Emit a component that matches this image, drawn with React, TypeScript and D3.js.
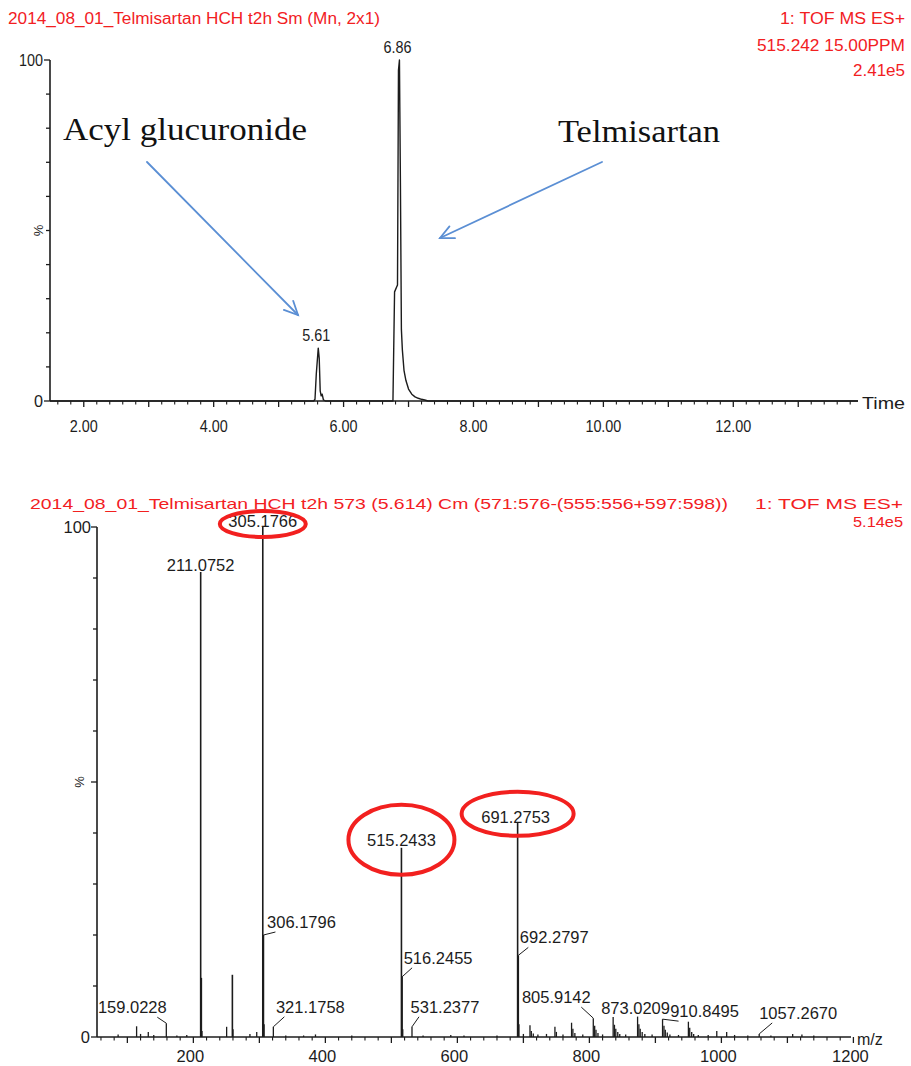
import React from "react";
import * as d3 from "d3";

const W = 911;
const H = 1066;

// ---- Extracted-ion chromatogram, m/z 515.242 (percent of 2.41e5) ----
const chromTime = [1.48, 5.54, 5.56, 5.58, 5.61, 5.625, 5.64, 5.655, 5.67, 5.69, 5.72, 6.76, 6.785, 6.83, 6.845, 6.86, 6.875, 6.89, 6.905, 6.93, 6.96, 7.0, 7.05, 7.1, 7.15, 7.2, 7.25, 7.3, 13.92];
const chromPct = [0, 0, 0.5, 8, 15.5, 12.5, 3, 1.5, 2, 0.3, 0, 0, 32, 34, 97, 100, 64, 21, 15, 9, 6, 3.5, 2, 1.2, 0.8, 0.5, 0.3, 0, 0];
const chromPeakTimes = [5.61, 6.86];
const chromPeakPct = [15.5, 100];
const chromPeakText = ["5.61", "6.86"];
const chromTickLabels = [2, 4, 6, 8, 10, 12];

// ---- Combined mass spectrum at 5.614 min (percent of 5.14e5) ----
const specMz = [86, 114, 120, 131.7, 140, 159.0228, 175, 190, 211.0752, 212.0786, 213.08, 250.4, 259.1, 260.1, 285.7, 296, 305.1766, 306.1796, 307.18, 321.1758, 340, 367, 385, 440, 515.2433, 516.2455, 517.25, 531.2377, 548, 590, 610, 660, 691.2753, 692.2797, 693.28, 700, 710, 712, 715, 722, 735, 747.8, 750, 760, 773, 775, 778, 790, 805.9142, 808, 810, 813, 820, 836, 838, 840, 843, 846, 855, 873.0209, 875, 877, 880, 884, 895, 910.8495, 913, 915, 918, 922, 935, 950, 952, 955, 958, 965, 980, 993, 1008, 1020, 1040, 1057.267, 1075, 1108, 1122, 1140];
const specPct = [0.5, 2.1, 0.6, 1.0, 0.4, 2.7, 0.3, 0.4, 91.2, 11.6, 1.2, 2.0, 12.2, 1.5, 0.6, 1.0, 100, 20, 2.5, 2.0, 0.3, 0.3, 0.5, 0.3, 37.1, 11.8, 1.5, 2.0, 0.3, 0.4, 0.3, 0.3, 42, 16, 2.5, 0.6, 2.3, 1.2, 0.7, 0.5, 0.6, 2.0, 1.0, 0.5, 2.8, 1.6, 0.8, 0.5, 3.7, 2.2, 1.4, 0.8, 0.5, 3.9, 2.4, 1.6, 1.0, 0.6, 0.5, 4.0, 2.5, 1.6, 1.0, 0.6, 0.5, 3.5, 2.2, 1.4, 0.9, 0.5, 0.4, 3.0, 1.8, 1.0, 0.6, 0.4, 0.4, 1.2, 1.0, 0.4, 0.3, 0.6, 0.3, 0.6, 0.5, 0.3];
const labeledMz = [159.0228, 211.0752, 305.1766, 306.1796, 321.1758, 515.2433, 516.2455, 531.2377, 691.2753, 692.2797, 805.9142, 873.0209, 910.8495, 1057.267];
const labeledText = ["159.0228", "211.0752", "305.1766", "306.1796", "321.1758", "515.2433", "516.2455", "531.2377", "691.2753", "692.2797", "805.9142", "873.0209", "910.8495", "1057.2670"];
const specTickLabels = [200, 400, 600, 800, 1000, 1200];
const circledMz = [305.1766, 515.2433, 691.2753];

// label placement: [dx of text centre from peak, dy of baseline from peak top, leader?]
const labelLayout: Record<string, [number, number, boolean]> = {
  "159.0228": [-34, -10, true],
  "211.0752": [0, -1, false],
  "305.1766": [0, 0, false],
  "306.1796": [38, -7, true],
  "321.1758": [37, -14, true],
  "515.2433": [0, -2, false],
  "516.2455": [36, -13, true],
  "531.2377": [33, -14, true],
  "691.2753": [-2, 0, false],
  "692.2797": [36, -12, true],
  "805.9142": [-37, -15, true],
  "873.0209": [-2, -3, false],
  "910.8495": [42, -2, true],
  "1057.2670": [39, -15, true],
};

const SANS = "'Liberation Sans', Arial, sans-serif";
const SERIF = "'Liberation Serif', 'Times New Roman', serif";
const RED = "#f2201f";
const INK = "#1c1c1c";

// top chart scales
const xT = d3.scaleLinear().domain([1.48, 13.92]).range([50, 858]);
const yT = d3.scaleLinear().domain([0, 100]).range([401, 60]);
// bottom chart scales
const xB = d3.scaleLinear().domain([54, 1200]).range([97, 853.4]);
const yB = d3.scaleLinear().domain([0, 100]).range([1037, 527]);

const T = (p: { x: number; y: number; len?: number; size?: number; anchor?: string; fill?: string; family?: string; children: React.ReactNode; transform?: string }) => (
  <text
    x={p.x}
    y={p.y}
    textLength={p.len}
    lengthAdjust={p.len ? "spacingAndGlyphs" : undefined}
    fontSize={p.size ?? 16}
    textAnchor={p.anchor ?? "start"}
    fill={p.fill ?? INK}
    fontFamily={p.family ?? SANS}
    transform={p.transform}
  >
    {p.children}
  </text>
);

function Arrow({ x1, y1, x2, y2 }: { x1: number; y1: number; x2: number; y2: number }) {
  const a = Math.atan2(y2 - y1, x2 - x1);
  const L = 15;
  const s = 0.45;
  const p1 = [x2 - L * Math.cos(a - s), y2 - L * Math.sin(a - s)];
  const p2 = [x2 - L * Math.cos(a + s), y2 - L * Math.sin(a + s)];
  return (
    <g stroke="#5b8fd4" strokeWidth={1.8} fill="none" strokeLinecap="round">
      <line x1={x1} y1={y1} x2={x2} y2={y2} />
      <polyline points={`${p1[0]},${p1[1]} ${x2},${y2} ${p2[0]},${p2[1]}`} />
    </g>
  );
}

export default function App() {
  const chromLine = d3
    .line<number>()
    .x((_, i) => xT(chromTime[i]))
    .y((_, i) => yT(chromPct[i]));
  const chromPath = chromLine(chromTime) ?? "";

  const tMajor = d3.range(2, 14, 1);
  const tMinor = d3.range(1.6, 13.9, 0.2).filter((t) => Math.abs(t - Math.round(t)) > 0.05);
  const fmt2 = d3.format(".2f");
  const pctTicks = d3.range(0, 101, 10);

  const mMajor = d3.range(100, 1201, 100);
  const mMinor = d3.range(60, 1200, 20).filter((m) => m % 100 !== 0);

  const pctOf = (mz: number) => specPct[specMz.indexOf(mz)];

  return (
    <svg width={W} height={H} style={{ position: "absolute", left: 0, top: 0, background: "#fff" }}>
      {/* ===== Chromatogram ===== */}
      <T x={8} y={24} len={372} size={16} fill={RED}>2014_08_01_Telmisartan HCH t2h Sm (Mn, 2x1)</T>
      <T x={905} y={24} len={125} size={16} anchor="end" fill={RED}>1: TOF MS ES+</T>
      <T x={905} y={51} len={148} size={16} anchor="end" fill={RED}>515.242 15.00PPM</T>
      <T x={905} y={76} len={52} size={16} anchor="end" fill={RED}>2.41e5</T>

      {/* y axis */}
      <line x1={50} y1={yT(0)} x2={50} y2={yT(100)} stroke={INK} strokeWidth={1.6} />
      {pctTicks.map((p) => (
        <line key={p} x1={p === 0 || p === 100 ? 44 : 46} x2={50} y1={yT(p)} y2={yT(p)} stroke={INK} strokeWidth={1.3} />
      ))}
      <T x={43} y={66} len={24} anchor="end">100</T>
      <T x={43} y={407} len={9} anchor="end">0</T>
      <T x={0} y={0} size={13} anchor="middle" transform={`translate(43,${yT(50)}) rotate(-90)`}>%</T>

      {/* x axis */}
      <line x1={50} y1={yT(0)} x2={858} y2={yT(0)} stroke={INK} strokeWidth={1.6} />
      {tMajor.map((t) => (
        <line key={t} x1={xT(t)} x2={xT(t)} y1={yT(0)} y2={yT(0) + 6} stroke={INK} strokeWidth={1.3} />
      ))}
      {tMinor.map((t) => (
        <line key={t} x1={xT(t)} x2={xT(t)} y1={yT(0)} y2={yT(0) + 3.5} stroke={INK} strokeWidth={1.1} />
      ))}
      {chromTickLabels.map((t) => (
        <T key={t} x={xT(t)} y={432} len={t >= 10 ? 36 : 28} anchor="middle">{fmt2(t)}</T>
      ))}
      <T x={862} y={409} len={43} size={17}>Time</T>

      {/* trace */}
      <path d={chromPath} fill="none" stroke={INK} strokeWidth={1.4} strokeLinejoin="round" />
      {chromPeakTimes.map((t, i) => (
        <T key={t} x={xT(t) - 2} y={yT(chromPeakPct[i]) - 7} len={28} anchor="middle">{chromPeakText[i]}</T>
      ))}

      {/* annotations */}
      <T x={63} y={140} len={244} size={32} family={SERIF} fill="#111">Acyl glucuronide</T>
      <T x={558} y={142} len={162} size={32} family={SERIF} fill="#111">Telmisartan</T>
      <Arrow x1={147} y1={162} x2={298} y2={315} />
      <Arrow x1={602} y1={162} x2={440} y2={238} />

      {/* ===== Mass spectrum ===== */}
      <T x={30} y={509} len={698} size={15} fill={RED}>2014_08_01_Telmisartan HCH t2h 573 (5.614) Cm (571:576-(555:556+597:598))</T>
      <T x={903} y={509} len={148} size={15} anchor="end" fill={RED}>1: TOF MS ES+</T>
      <T x={903} y={527} len={50} size={15} anchor="end" fill={RED}>5.14e5</T>

      {/* y axis */}
      <line x1={97} y1={yB(0)} x2={97} y2={yB(100)} stroke={INK} strokeWidth={1.6} />
      {pctTicks.map((p) => (
        <line key={p} x1={p === 0 || p === 100 || p === 50 ? 91 : 93} x2={97} y1={yB(p)} y2={yB(p)} stroke={INK} strokeWidth={1.3} />
      ))}
      <T x={91} y={533} size={16.5} anchor="end">100</T>
      <T x={90} y={1043} size={16.5} anchor="end">0</T>
      <T x={0} y={0} size={13} anchor="middle" transform={`translate(84,${yB(50)}) rotate(-90)`}>%</T>

      {/* x axis */}
      <line x1={97} y1={yB(0)} x2={851} y2={yB(0)} stroke={INK} strokeWidth={1.6} />
      {mMajor.map((m) => (
        <line key={m} x1={xB(m)} x2={xB(m)} y1={yB(0)} y2={yB(0) + 6} stroke={INK} strokeWidth={1.3} />
      ))}
      {mMinor.map((m) => (
        <line key={m} x1={xB(m)} x2={xB(m)} y1={yB(0)} y2={yB(0) + 3.5} stroke={INK} strokeWidth={1.1} />
      ))}
      {specTickLabels.map((m) => (
        <T key={m} x={xB(m) - 3} y={1062} size={16.5} anchor="middle">{String(m)}</T>
      ))}
      <T x={857} y={1045} size={16}>m/z</T>

      {/* sticks */}
      {specMz.map((m, i) => (
        <line key={m} x1={xB(m)} x2={xB(m)} y1={yB(0)} y2={yB(specPct[i])} stroke={INK} strokeWidth={specPct[i] > 5 ? 1.6 : 1.3} />
      ))}

      {/* peak labels */}
      {labeledMz.map((m, i) => {
        const txt = labeledText[i];
        const [dx, dy, leader] = labelLayout[txt];
        const px = xB(m);
        const py = yB(pctOf(m));
        const tx = px + dx;
        const ty = py + dy;
        const lx = dx > 0 ? tx - 26 : tx + 25;
        return (
          <g key={txt}>
            {leader && (
              <polyline
                points={`${lx},${ty + 4} ${px},${py}`}
                fill="none"
                stroke={INK}
                strokeWidth={1}
              />
            )}
            <T x={tx} y={ty} size={16.5} anchor="middle">{txt}</T>
          </g>
        );
      })}

      {/* circled ions */}
      {circledMz.map((m, i) => {
        const px = xB(m);
        const py = yB(pctOf(m));
        const geo = [
          [0, -3, 43, 13],
          [0, -8, 53, 35],
          [0, -9, 56, 22],
        ][i];
        return (
          <ellipse key={m} cx={px + geo[0]} cy={py + geo[1]} rx={geo[2]} ry={geo[3]} fill="none" stroke={RED} strokeWidth={4} />
        );
      })}
    </svg>
  );
}
